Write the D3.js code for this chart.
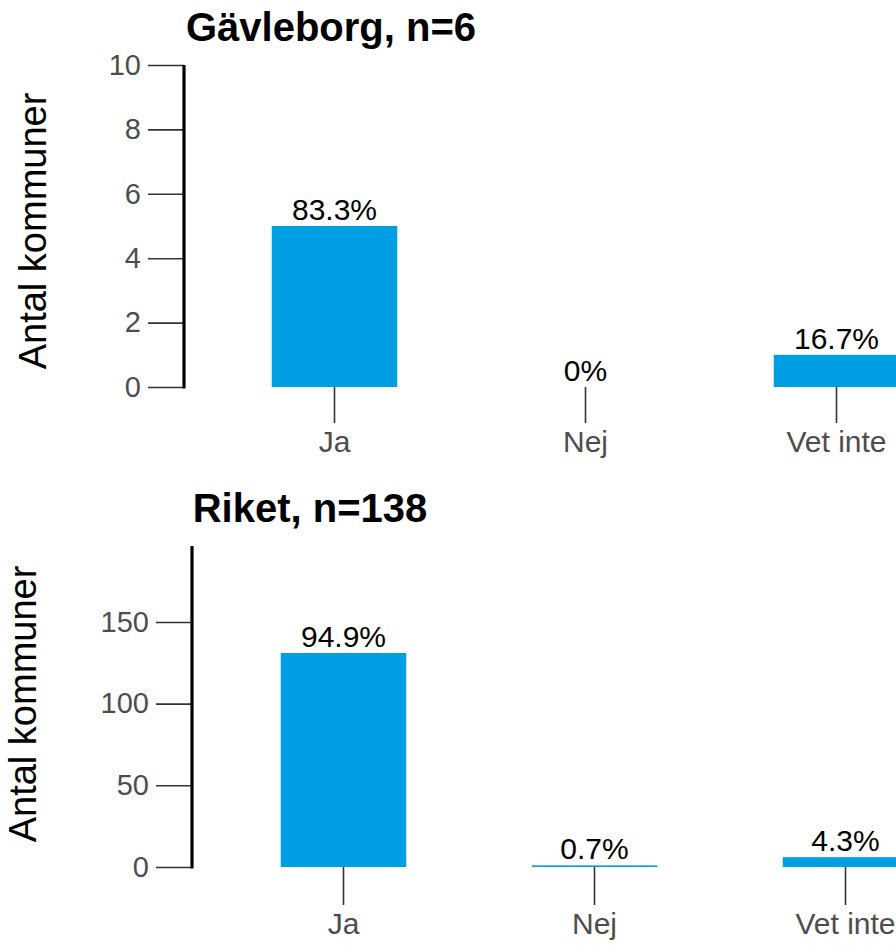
<!DOCTYPE html>
<html>
<head>
<meta charset="utf-8">
<script src="https://cdn.jsdelivr.net/npm/d3@7"></script>
<style>
  html, body { margin: 0; padding: 0; background: #fff; }
  svg { display: block; }
  text { font-family: "Liberation Sans", Arial, sans-serif; }
</style>
</head>
<body>
<svg id="chart" width="896" height="945"></svg>
<script>
// ---- Data ----
const categories = ["Ja", "Nej", "Vet inte"];
const gavleborgCounts = [5, 0, 1];
const gavleborgLabels = ["83.3%", "0%", "16.7%"];
const riketCounts = [131, 1, 6];
const riketLabels = ["94.9%", "0.7%", "4.3%"];
const gavleborgTicks = [0, 2, 4, 6, 8, 10];
const riketTicks = [0, 50, 100, 150];
const panelTitles = ["Gävleborg, n=6", "Riket, n=138"];
const yAxisTitle = "Antal kommuner";

const barColor = "#009fe3";
const svg = d3.select("#chart");

function drawPanel(opt) {
  const g = svg.append("g");
  const x = d3.scaleBand().domain(categories)
    .range([opt.x0, opt.x0 + 753]).paddingInner(0.5).paddingOuter(0.25);
  const y = d3.scaleLinear().domain(opt.yDomain).range([opt.yBottom, opt.yTop]);

  // bars
  g.selectAll("rect.bar").data(opt.counts).enter().append("rect")
    .attr("x", (d, i) => x(categories[i]))
    .attr("width", x.bandwidth())
    .attr("y", d => y(d))
    .attr("height", d => y(0) - y(d))
    .attr("fill", barColor);

  // value labels
  g.selectAll("text.val").data(opt.counts).enter().append("text")
    .attr("x", (d, i) => x(categories[i]) + x.bandwidth() / 2)
    .attr("y", d => y(d) - 6)
    .attr("text-anchor", "middle")
    .attr("font-size", 30)
    .attr("fill", "#000")
    .text((d, i) => opt.labels[i]);

  // y axis
  const yAxis = d3.axisLeft(y).tickValues(opt.ticks).tickSize(36).tickPadding(7);
  const ya = g.append("g").attr("transform", `translate(${opt.axisX},0)`).call(yAxis);
  ya.select(".domain").remove();
  ya.selectAll(".tick line").attr("stroke", "#333").attr("stroke-width", 1.6);
  ya.selectAll(".tick text").attr("font-size", 29).attr("fill", "#4d4d4d")
    .attr("font-family", "'Liberation Sans', Arial, sans-serif");
  g.append("line")
    .attr("x1", opt.axisX).attr("x2", opt.axisX)
    .attr("y1", y(opt.yDomain[1])).attr("y2", y(0) + 1.5)
    .attr("stroke", "#000").attr("stroke-width", 3.2);

  // x axis
  const xAxis = d3.axisBottom(x).tickSize(opt.xTickLen).tickPadding(8);
  const xa = g.append("g").attr("transform", `translate(0,${y(0)})`).call(xAxis);
  xa.select(".domain").remove();
  xa.selectAll(".tick line").attr("stroke", "#333").attr("stroke-width", 1.6);
  xa.selectAll(".tick text").attr("font-size", 30).attr("fill", "#4d4d4d")
    .attr("font-family", "'Liberation Sans', Arial, sans-serif");

  // title
  g.append("text")
    .attr("x", opt.titleX).attr("y", opt.titleY)
    .attr("text-anchor", "middle")
    .attr("font-size", 40).attr("font-weight", "bold").attr("fill", "#000")
    .text(opt.title);

  // y axis title
  g.append("text")
    .attr("transform", `translate(${opt.yLabelX},${opt.yLabelY}) rotate(-90)`)
    .attr("text-anchor", "middle")
    .attr("font-size", 38).attr("fill", "#000")
    .text(yAxisTitle);
}

drawPanel({
  counts: gavleborgCounts, labels: gavleborgLabels, ticks: gavleborgTicks,
  yDomain: [0, 10], yTop: 65, yBottom: 387, x0: 209, axisX: 184,
  xTickLen: 36, title: panelTitles[0], titleX: 331, titleY: 41,
  yLabelX: 46, yLabelY: 231
});

drawPanel({
  counts: riketCounts, labels: riketLabels, ticks: riketTicks,
  yDomain: [0, 196.5], yTop: 546, yBottom: 867, x0: 218, axisX: 192,
  xTickLen: 38, title: panelTitles[1], titleX: 310, titleY: 522,
  yLabelX: 36, yLabelY: 704
});
</script>
</body>
</html>
